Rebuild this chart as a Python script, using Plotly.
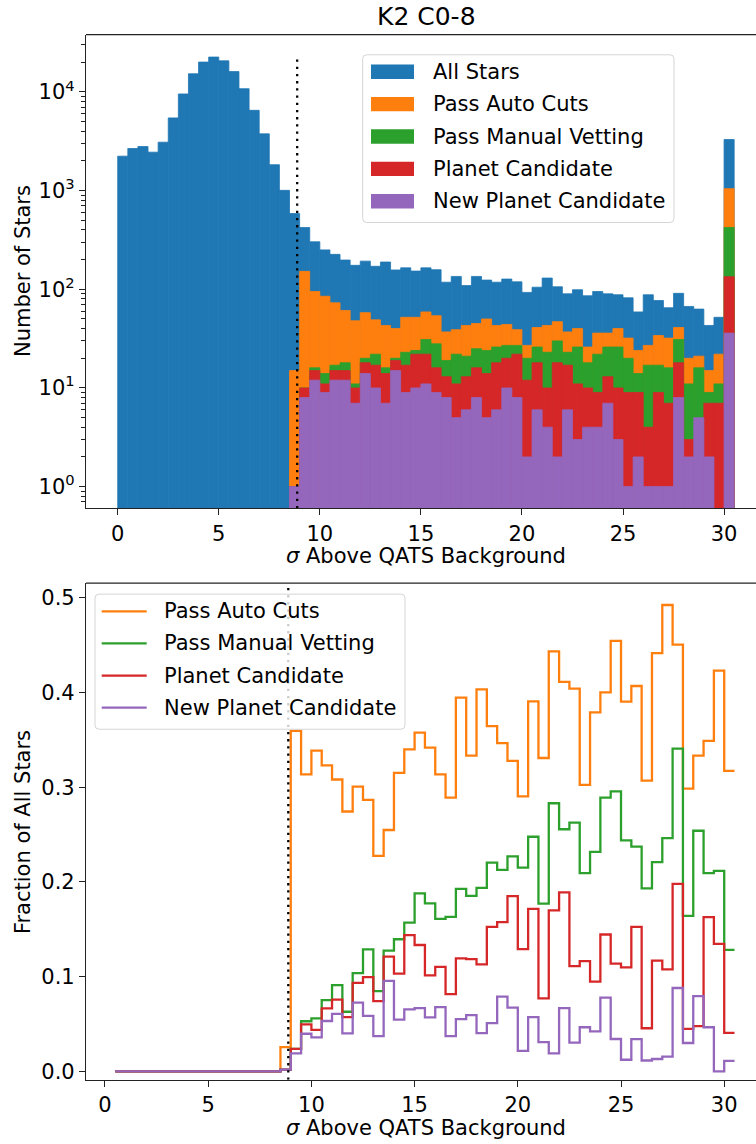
import plotly.graph_objects as go

W, H = 756, 1144
FONT = "DejaVu Sans"
INK = "#222222"

# ---- histogram bins: 0.5-wide bins from 0 to 30.5 (last bin holds everything above 30)
bin_width = 0.5
n_bins = 61
bin_centers = [bin_width * i + bin_width / 2 for i in range(n_bins)]
bin_right = [bin_width * (i + 1) for i in range(n_bins)]

# ---- counts per bin
all_stars = [2236, 2675, 2800, 2455, 3098, 5460, 9550, 15300, 20100, 22600,
             20700, 16100, 10800, 6520, 3765, 1832, 1007,
             586, 423, 303, 251, 226, 198, 175, 193, 171, 189, 157, 165, 153,
             165, 158, 118, 135, 109, 135, 124, 118, 127, 119, 93, 105, 130,
             106, 90, 99, 86, 95, 90, 88, 82, 59, 88, 77, 65, 91, 67, 63, 43,
             52, 3300]
below_threshold = [0] * 17
pass_auto = below_threshold + [
    15, 152, 95, 85, 73, 61, 48, 58, 49, 43, 40, 52, 52, 59, 54, 37, 39, 43,
    45, 50, 43, 44, 39, 27, 41, 43, 47, 37, 40, 26, 36, 36, 40, 32, 24, 27,
    34, 32, 41, 20, 21, 15, 22, 1047]
pass_manual = below_threshold + [
    1, 10, 16, 14, 17, 18, 11, 20, 22, 16, 20, 23, 24, 31, 28, 19, 22, 21,
    25, 24, 26, 27, 27, 20, 26, 23, 30, 23, 26, 18, 22, 26, 26, 20, 14, 17,
    17, 16, 31, 11, 16, 9, 11, 423]
planet_cand = below_threshold + [
    1, 10, 15, 11, 15, 15, 10, 18, 17, 14, 19, 17, 22, 22, 16, 13, 11, 13,
    16, 14, 18, 20, 22, 12, 18, 10, 18, 17, 11, 10, 9, 13, 10, 9, 9, 4,
    9, 7, 18, 3, 3, 7, 7, 134]
new_planet = below_threshold + [
    1, 8, 12, 9, 12, 12, 7, 14, 10, 7, 15, 9, 10, 11, 9, 8, 5, 6,
    8, 5, 6, 10, 8, 2, 6, 4, 2, 6, 3, 4, 4, 7, 3, 1, 2, 1,
    1, 1, 8, 2, 5, 2, 0, 36]

series_names = ["All Stars", "Pass Auto Cuts", "Pass Manual Vetting",
                "Planet Candidate", "New Planet Candidate"]
series_counts = [all_stars, pass_auto, pass_manual, planet_cand, new_planet]
colors = ["#1f77b4", "#ff7f0e", "#2ca02c", "#d62728", "#9467bd"]

threshold = 8.88  # QATS significance cut

# ---- axes geometry (pixels in the 756x1144 page)
ax_left = 86.0
top_ax = (34.7, 510.0)      # top, bottom
bot_ax = (585.1, 1083.6)
top_xrange = [-1.569, 31.58]
top_yrange = [-0.219, 4.582]       # log10 units
bot_xrange = [-0.92, 31.54]
bot_yrange = [-0.009, 0.5155]


def px(x):
    return x / W


def py(y):
    return 1 - y / H


fig = go.Figure()

# ---- top: overlaid histograms on a log axis
for name, counts, col in zip(series_names, series_counts, colors):
    fig.add_trace(go.Bar(
        x=bin_centers, y=[c if c > 0 else None for c in counts],
        width=bin_width, marker=dict(color=col, line=dict(width=0.8, color=col)),
        name=name, showlegend=False, xaxis="x", yaxis="y"))

vline_top = 1.05 * max(all_stars)
fig.add_trace(go.Scatter(
    x=[threshold, threshold], y=[10 ** top_yrange[0], vline_top],
    mode="lines", line=dict(color="black", width=2.3, dash="2.3px,4.9px"),
    showlegend=False, hoverinfo="skip", xaxis="x", yaxis="y"))

# ---- bottom: fraction of all stars per bin, drawn as steps
for name, counts, col in list(zip(series_names, series_counts, colors))[1:]:
    frac = [c / a for c, a in zip(counts, all_stars)]
    fig.add_trace(go.Scatter(
        x=bin_right, y=frac, mode="lines", line_shape="vh",
        line=dict(color=col, width=2.3), name=name, showlegend=False,
        xaxis="x2", yaxis="y2"))

fig.add_trace(go.Scatter(
    x=[threshold, threshold], y=bot_yrange,
    mode="lines", line=dict(color="black", width=2.3, dash="2.3px,4.9px"),
    showlegend=False, hoverinfo="skip", xaxis="x2", yaxis="y2"))

tickfont = dict(family=FONT, size=21, color="black")
axis_common = dict(showline=True, linecolor=INK, linewidth=1.2, mirror=False,
                   ticks="outside", ticklen=6, tickwidth=1.2, tickcolor=INK,
                   showgrid=False, zeroline=False, tickfont=tickfont)

minor_vals = [m * 10 ** d for d in range(-1, 5) for m in range(2, 10)]

fig.update_layout(
    width=W, height=H, margin=dict(l=0, r=0, t=0, b=0),
    paper_bgcolor="white", plot_bgcolor="white",
    barmode="overlay", font=dict(family=FONT, size=21, color="black"),
    xaxis=dict(domain=[px(ax_left), 1], range=top_xrange, anchor="y",
               tickmode="array", tickvals=[0, 5, 10, 15, 20, 25, 30],
               **axis_common),
    yaxis=dict(domain=[py(top_ax[1]), py(top_ax[0])], type="log",
               range=top_yrange, anchor="x",
               tickmode="array", tickvals=[1, 10, 100, 1000, 10000],
               ticktext=["10<sup>0</sup>", "10<sup>1</sup>", "10<sup>2</sup>",
                         "10<sup>3</sup>", "10<sup>4</sup>"],
               minor=dict(tickmode="array", tickvals=minor_vals,
                          ticks="outside", ticklen=3.5, tickwidth=1,
                          tickcolor=INK),
               **axis_common),
    xaxis2=dict(domain=[px(ax_left), 1], range=bot_xrange, anchor="y2",
                tickmode="array", tickvals=[0, 5, 10, 15, 20, 25, 30],
                **axis_common),
    yaxis2=dict(domain=[py(bot_ax[1]), py(bot_ax[0])], range=bot_yrange,
                anchor="x2", tickmode="array",
                tickvals=[0, 0.1, 0.2, 0.3, 0.4, 0.5], tickformat=".1f",
                **axis_common),
)

shapes = []
annotations = []

# top spines of both panels (the right edge runs off the page)
for top_y in (top_ax[0], bot_ax[0]):
    shapes.append(dict(type="line", xref="paper", yref="paper",
                       x0=px(ax_left), x1=1, y0=py(top_y), y1=py(top_y),
                       line=dict(color=INK, width=1.2)))


def text(x, y, s, size=21, xanchor="center", angle=0):
    annotations.append(dict(xref="paper", yref="paper", x=px(x), y=py(y),
                            text=s, showarrow=False, xanchor=xanchor,
                            yanchor="middle", textangle=angle,
                            font=dict(family=FONT, size=size, color="black")))


def rounded_box(x0, y0, x1, y1, r=4):
    rx, ry = r / W, r / H
    X0, X1, Y0, Y1 = px(x0), px(x1), py(y1), py(y0)
    path = (f"M {X0 + rx},{Y0} L {X1 - rx},{Y0} Q {X1},{Y0} {X1},{Y0 + ry} "
            f"L {X1},{Y1 - ry} Q {X1},{Y1} {X1 - rx},{Y1} "
            f"L {X0 + rx},{Y1} Q {X0},{Y1} {X0},{Y1 - ry} "
            f"L {X0},{Y0 + ry} Q {X0},{Y0} {X0 + rx},{Y0} Z")
    shapes.append(dict(type="path", xref="paper", yref="paper", path=path,
                       fillcolor="rgba(255,255,255,0.8)", layer="above",
                       line=dict(color="#d5d5d5", width=1)))


# legend of the histogram panel
rounded_box(362.7, 55.0, 674.0, 223.3)
for i, (name, col) in enumerate(zip(series_names, colors)):
    yc = 72.0 + 32.5 * i
    shapes.append(dict(type="rect", xref="paper", yref="paper", layer="above",
                       x0=px(371), x1=px(414), y0=py(yc + 7.2), y1=py(yc - 7.2),
                       fillcolor=col, line=dict(width=0)))
    text(430.7, yc, name, xanchor="left")

# legend of the fraction panel
rounded_box(95.0, 596.2, 405.0, 731.8)
for i, (name, col) in enumerate(zip(series_names[1:], colors[1:])):
    yc = 613.5 + 32.2 * i
    shapes.append(dict(type="line", xref="paper", yref="paper", layer="above",
                       x0=px(101.7), x1=px(146.7), y0=py(yc), y1=py(yc),
                       line=dict(color=col, width=2.3)))
    text(162.3, yc, name, xanchor="left")

# titles and axis labels
text(426, 16.7, "K2 C0-8", size=25)
text(426, 558, "<i>σ</i> Above QATS Background")
text(426, 1132, "<i>σ</i> Above QATS Background")
text(23, 272, "Number of Stars", angle=-90)
text(23, 835, "Fraction of All Stars", angle=-90)

fig.update_layout(shapes=shapes, annotations=annotations)
fig.write_html("out.html")
